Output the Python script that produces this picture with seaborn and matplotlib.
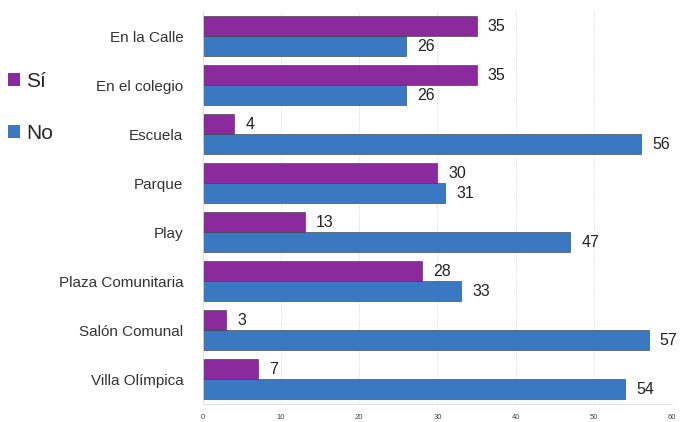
import matplotlib
matplotlib.use("Agg")
import matplotlib.pyplot as plt
import seaborn as sns
import pandas as pd
from matplotlib.patches import Patch

categories = ["En la Calle", "En el colegio", "Escuela", "Parque", "Play",
              "Plaza Comunitaria", "Salón Comunal", "Villa Olímpica"]
si_values = [35, 35, 4, 30, 13, 28, 3, 7]
no_values = [26, 26, 56, 31, 47, 33, 57, 54]
series = ["Sí", "No"]
xticks = [0, 10, 20, 30, 40, 50, 60]
colors = {"Sí": "#8a2a9c", "No": "#3a78c2"}

df = pd.DataFrame({
    "cat": categories * 2,
    "serie": ["Sí"] * len(categories) + ["No"] * len(categories),
    "val": si_values + no_values,
})

sns.set_theme(style="white")
plt.rcParams['font.family'] = ['Liberation Sans', 'DejaVu Sans']

fig = plt.figure(figsize=(6.83, 4.22), dpi=100)
ax = fig.add_axes([0.297, 0.043, 0.687, 0.929])

sns.barplot(data=df, y="cat", x="val", hue="serie", order=categories,
            hue_order=series, palette=colors, saturation=1, orient="h",
            width=0.82, edgecolor="#333333", linewidth=0.4, legend=False, ax=ax)

for cont in ax.containers:
    ax.bar_label(cont, labels=[f"{int(v)}" for v in cont.datavalues],
                 padding=8, fontsize=11.5, color="#222222")

ax.set_xlim(0, 60)
ax.set_ylim(len(categories) - 0.5, -0.5)
ax.set_xticks(xticks)
ax.set_xticklabels([str(t) for t in xticks], fontsize=5.5, color="#444444")
ax.tick_params(axis="x", length=2, width=0.5, color="#aaaaaa", pad=5)
ax.tick_params(axis="y", labelsize=11, colors="#333333", length=0, pad=14)
ax.set_xlabel("")
ax.set_ylabel("")
ax.xaxis.grid(True, linestyle=":", color="#cccccc", linewidth=0.6)
ax.set_axisbelow(True)
for s in ["top", "right"]:
    ax.spines[s].set_visible(False)
ax.spines["left"].set_color("#dddddd")
ax.spines["left"].set_linewidth(0.6)
ax.spines["bottom"].set_color("#dddddd")
ax.spines["bottom"].set_linewidth(0.6)

handles = [Patch(facecolor=colors[s], edgecolor="none") for s in series]
fig.legend(handles, series, loc="upper left", bbox_to_anchor=(0.0, 0.85),
           fontsize=15, frameon=False, labelspacing=1.6, handlelength=0.55,
           handleheight=0.55, handletextpad=0.3, borderaxespad=0)

fig.savefig("out.png", dpi=100)
